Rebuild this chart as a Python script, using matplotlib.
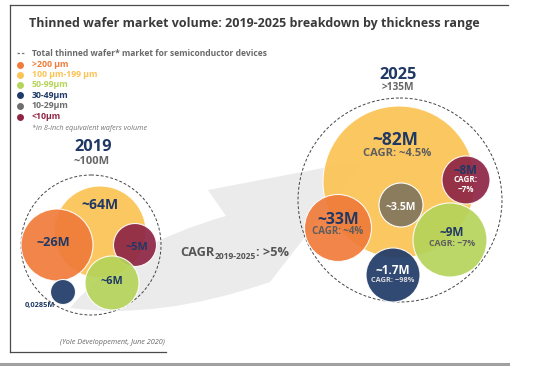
import matplotlib
matplotlib.use("Agg")
import matplotlib.pyplot as plt
from matplotlib.patches import Circle, PathPatch
from matplotlib.path import Path

# ---------------- data ----------------
title = "Thinned wafer market volume: 2019-2025 breakdown by thickness range"
legend_total = "Total thinned wafer* market for semiconductor devices"
ranges = [">200 µm", "100 µm-199 µm", "50-99µm", "30-49µm", "10-29µm", "<10µm"]
range_colors = ["#F07B3A", "#FBC354", "#B5D45A", "#1F3A68", "#6E6E6E", "#8E2545"]
footnote = "*in 8-inch equivalent wafers volume"

year_2019 = "2019"
total_2019 = "~100M"
labels_2019 = ["~26M", "~64M", "~6M", "0,0285M", None, "~5M"]

year_2025 = "2025"
total_2025 = ">135M"
labels_2025 = ["~33M", "~82M", "~9M", "~1.7M", "~3.5M", "~8M"]
cagr_2025 = ["CAGR: ~4%", "CAGR: ~4.5%", "CAGR: ~7%", "CAGR: ~98%", None, "CAGR:\n~7%"]

cagr_main = ("CAGR", "2019-2025", ": >5%")
source = "(Yole Développement, June 2020)"

# ---------------- layout (pixel space) ----------------
W, H = 541, 366
fig = plt.figure(figsize=(W / 100, H / 100), dpi=100)
ax = fig.add_axes([0, 0, 1, 1])
ax.set_xlim(0, W)
ax.set_ylim(H, 0)
ax.axis("off")

TITLE_FONT = ["Open Sans", "DejaVu Sans"]
FONT = ["Open Sans", "DejaVu Sans"]
NAVY = "#1F3864"
GRAY = "#5E5E5E"

# frame
ax.plot([10, 508], [5, 5], color="#4a4a4a", lw=0.9)
ax.plot([10, 10], [5, 352], color="#4a4a4a", lw=0.9)
ax.plot([10, 166], [352, 352], color="#4a4a4a", lw=0.9)
ax.plot([0, 508], [363.5, 363.5], color="#a0a0a0", lw=2.2)

# title
ax.text(254, 23, title, fontsize=9.0, fontweight="bold", color="#3a3a3a",
        family=TITLE_FONT, ha="center", va="center")

# legend
ax.plot([16.5, 23.5], [52.5, 52.5], color="#777777", lw=0.9, ls=(0, (2, 1.5)))
ax.text(32, 53.5, legend_total, fontsize=6.1, fontweight="bold", color="#6a6a6a",
        family=FONT, ha="left", va="center")
leg_y = [64.5, 74.5, 84.5, 95, 106, 116.5]
for yy, lab, col in zip(leg_y, ranges, range_colors):
    ax.plot([20], [yy], marker="o", ms=5, color=col, mec="none")
    ax.text(32, yy, lab, fontsize=6.3, fontweight="bold", color=col,
            family=FONT, ha="left", va="center")
ax.text(32, 128, footnote, fontsize=5.2, style="italic", color="#777777",
        family=FONT, ha="left", va="center")

# arrow (decorative)
verts = [(70, 308), (122, 245), (226, 216), (208, 190), (365, 160),
         (270, 282), (160, 320), (70, 308), (70, 308)]
codes = [Path.MOVETO, Path.CURVE3, Path.CURVE3, Path.LINETO, Path.LINETO,
         Path.LINETO, Path.CURVE3, Path.CURVE3, Path.CLOSEPOLY]
ax.add_patch(PathPatch(Path(verts, codes), facecolor="#EBEBEB", edgecolor="none", zorder=1))

# CAGR main text, placed piece by piece
renderer = fig.canvas.get_renderer()
inv = ax.transData.inverted()
x0 = 180
parts = [(cagr_main[0], 9.2, 256.5), (cagr_main[1], 6.1, 259), (cagr_main[2], 9.2, 256.5)]
for txt, fs, yb in parts:
    t = ax.text(x0, yb, txt, fontsize=fs, fontweight="bold", color="#555555",
                family=FONT, ha="left", va="baseline", zorder=5)
    bb = t.get_window_extent(renderer=renderer)
    (xa, _), (xb, _) = inv.transform([[bb.x0, bb.y0], [bb.x1, bb.y0]])
    x0 += (xb - xa) + 0.5

# circle order: >200, 100-199, 50-99, 30-49, 10-29, <10
draw_order = [1, 0, 3, 5, 2, 4]
ALPHA = 0.92

# ---- 2019 ----
c2019 = [(57, 245, 36), (100, 232, 46), (112, 283, 27), (63, 292, 12.5), None, (135, 245, 21.5)]
ax.add_patch(Circle((91, 245), 70, fill=False, ls=(0, (3, 2)), lw=0.7, ec="#444444", zorder=2))
for i in draw_order:
    if c2019[i] is None:
        continue
    x, y, r = c2019[i]
    ax.add_patch(Circle((x, y), r, fc=range_colors[i], ec="white", lw=0.8,
                        alpha=ALPHA, zorder=3))
ax.text(93, 147, year_2019, fontsize=11.8, fontweight="bold", color=NAVY,
        family=FONT, ha="center", va="center", zorder=6)
ax.text(92, 161, total_2019, fontsize=8, fontweight="bold", color="#666666",
        family=FONT, ha="center", va="center", zorder=6)
lab_pos_2019 = [(53, 242), (100, 205), (112, 282), (40, 305), None, (137, 247)]
lab_size_2019 = [9.2, 10, 7.8, 5.3, None, 7.8]
for i, p in enumerate(lab_pos_2019):
    if p is None:
        continue
    ax.text(p[0], p[1], labels_2019[i], fontsize=lab_size_2019[i], fontweight="bold",
            color=NAVY, family=FONT, ha="center", va="center", zorder=6)

# ---- 2025 ----
c2025 = [(338, 228, 33.5), (399, 182, 76), (450, 240, 37), (393, 275, 27), (401, 205, 22), (466, 180, 24)]
ax.add_patch(Circle((400, 200), 102, fill=False, ls=(0, (3, 2)), lw=0.7, ec="#444444", zorder=2))
for i in draw_order:
    x, y, r = c2025[i]
    ax.add_patch(Circle((x, y), r, fc=range_colors[i] if i != 4 else "#8C7C5E",
                        ec="white", lw=0.8, alpha=ALPHA if i != 4 else 1, zorder=3))
ax.text(398, 75, year_2025, fontsize=11.8, fontweight="bold", color=NAVY,
        family=FONT, ha="center", va="center", zorder=6)
ax.text(398, 88, total_2025, fontsize=7.3, fontweight="bold", color="#666666",
        family=FONT, ha="center", va="center", zorder=6)

lab_pos_2025 = [(338, 220), (395, 140), (452, 233), (393, 270), (401, 207), (465, 170)]
lab_size_2025 = [11.3, 12.5, 8.5, 8.5, 7.5, 8.3]
lab_col_2025 = [NAVY, NAVY, NAVY, "white", "white", NAVY]
cagr_pos_2025 = [(338, 232), (397, 154), (452, 244), (393, 280), None, (466, 184.5)]
cagr_size_2025 = [7, 8, 6.3, 5.3, None, 5.8]
cagr_col_2025 = [GRAY, GRAY, GRAY, "#dddddd", None, "white"]
for i in range(6):
    ax.text(*lab_pos_2025[i], labels_2025[i], fontsize=lab_size_2025[i], fontweight="bold",
            color=lab_col_2025[i], family=FONT, ha="center", va="center", zorder=6)
    if cagr_2025[i] is not None:
        ax.text(*cagr_pos_2025[i], cagr_2025[i], fontsize=cagr_size_2025[i], fontweight="bold",
                color=cagr_col_2025[i], family=FONT, ha="center", va="center",
                linespacing=1.0, zorder=6)

# source
ax.text(165, 343, source, fontsize=5.2, style="italic", color="#666666",
        family=FONT, ha="right", va="center")

fig.savefig("out.png", dpi=100)
